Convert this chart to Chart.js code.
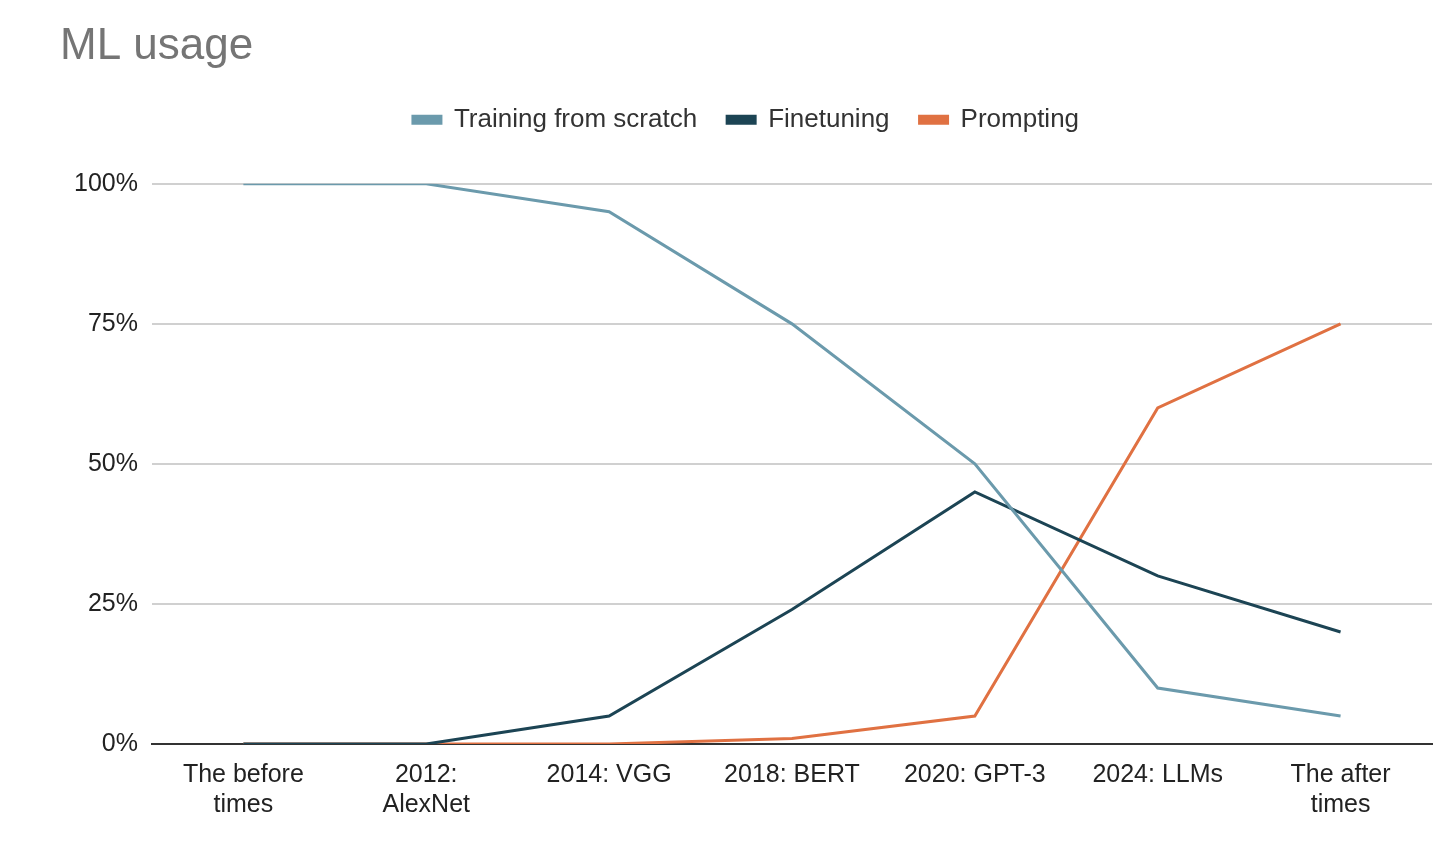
<!DOCTYPE html>
<html><head><meta charset="utf-8">
<script src="https://cdn.jsdelivr.net/npm/chart.js@4/dist/chart.umd.min.js"></script>
<style>html,body{margin:0;background:#fff}#w{width:1456px;height:842px}</style>
</head><body><div id="w"><canvas id="c"></canvas></div>
<script>
const categories=[["The before","times"],["2012:","AlexNet"],"2014: VGG","2018: BERT","2020: GPT-3","2024: LLMs",["The after","times"]];
const training=[100,100,95,75,50,10,5];
const finetuning=[0,0,5,24,45,30,20];
const prompting=[0,0,0,1,5,60,75];
const yTicks=[0,25,50,75,100];
const F="'Liberation Sans', Arial, sans-serif";
const legendExtra={id:'legendExtra',beforeInit(chart){const f=chart.legend.fit;chart.legend.fit=function(){f.call(this);this.height+=41;};}};
new Chart(document.getElementById('c'),{
type:'line',
data:{labels:categories,datasets:[
{label:'Training from scratch',data:training,borderColor:'#6b9aac',backgroundColor:'#6b9aac'},
{label:'Finetuning',data:finetuning,borderColor:'#1c4454',backgroundColor:'#1c4454'},
{label:'Prompting',data:prompting,borderColor:'#e07142',backgroundColor:'#e07142'}]},
options:{responsive:true,maintainAspectRatio:false,animation:false,
elements:{line:{borderWidth:3,tension:0},point:{radius:0}},
layout:{padding:{left:60,right:24,top:16,bottom:14}},
plugins:{
title:{display:true,text:'ML usage',align:'start',color:'#757575',font:{family:F,size:44,weight:'normal'},padding:{top:4,bottom:4}},
legend:{labels:{boxWidth:28,boxHeight:7,padding:30,color:'#333',font:{family:F,size:26}}},
tooltip:{enabled:false}},
scales:{
x:{offset:true,grid:{display:false},border:{color:'#333',width:2},
ticks:{color:'#222',font:{family:F,size:25},maxRotation:0,autoSkip:false,padding:8}},
y:{min:0,max:100,afterBuildTicks:a=>{a.ticks=yTicks.map(v=>({value:v}));},
grid:{color:'#d0d0d0',lineWidth:2,drawTicks:false},border:{display:false},
ticks:{color:'#222',padding:14,font:{family:F,size:25},callback:v=>v+'%'}}}},
plugins:[legendExtra]
});
</script></body></html>
